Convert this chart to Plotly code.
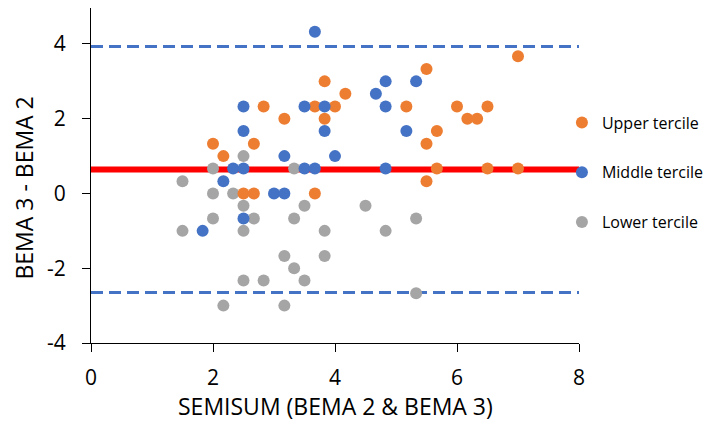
import plotly.graph_objects as go

# ---- data ----
upper_x = [3.83, 4.17, 2.83, 3.17, 3.67, 4.0, 3.83, 2.0, 2.67, 2.17, 7.0, 5.5, 5.17, 6.0, 6.5,
           6.17, 6.33, 5.67, 5.5, 5.67, 6.5, 7.0, 5.5, 2.5, 2.67, 3.67]
upper_y = [3.0, 2.67, 2.33, 2.0, 2.33, 2.33, 2.0, 1.33, 1.33, 1.0, 3.67, 3.33, 2.33, 2.33, 2.33,
           2.0, 2.0, 1.67, 1.33, 0.67, 0.67, 0.67, 0.33, 0.0, 0.0, 0.0]

middle_x = [3.67, 2.5, 3.5, 3.83, 3.83, 2.5, 3.17, 4.0, 2.33, 2.5, 3.5, 3.67, 2.17, 4.83, 5.33,
            4.67, 4.83, 5.17, 4.83, 3.0, 3.17, 2.5, 1.83]
middle_y = [4.33, 2.33, 2.33, 2.33, 1.67, 1.67, 1.0, 1.0, 0.67, 0.67, 0.67, 0.67, 0.33, 3.0, 3.0,
            2.67, 2.33, 1.67, 0.67, 0.0, 0.0, -0.67, -1.0]

lower_x = [2.5, 2.0, 3.33, 1.5, 2.0, 2.33, 2.5, 3.5, 2.0, 2.67, 3.33, 1.5, 2.5, 3.83, 3.17,
           3.83, 3.33, 2.5, 2.83, 3.5, 2.17, 3.17, 4.5, 4.83, 5.33, 5.33]
lower_y = [1.0, 0.67, 0.67, 0.33, 0.0, 0.0, -0.33, -0.33, -0.67, -0.67, -0.67, -1.0, -1.0, -1.0, -1.67,
           -1.67, -2.0, -2.33, -2.33, -2.33, -3.0, -3.0, -0.33, -1.0, -0.67, -2.67]

mean_diff = 0.64
upper_loa = 3.93
lower_loa = -2.65
line_x = [0, 8]

x_ticks = [0, 2, 4, 6, 8]
x_tick_labels = ["0", "2", "4", "6", "8"]
y_ticks = [-4, -2, 0, 2, 4]
y_tick_labels = ["-4", "-2", "0", "2", "4"]

x_title = "SEMISUM (BEMA 2 & BEMA 3)"
y_title = "BEMA 3 - BEMA 2"

FONT = "Open Sans"
ORANGE = "#ED7D31"
BLUE = "#4472C4"
GRAY = "#A5A5A5"

fig = go.Figure()

# reference lines (drawn beneath markers)
for yv, col, w, dash in [(upper_loa, BLUE, 3, "12px,6px"),
                         (lower_loa, BLUE, 3, "12px,6px"),
                         (mean_diff, "#FF0000", 6, "solid")]:
    fig.add_trace(go.Scatter(x=line_x, y=[yv, yv], mode="lines",
                             line=dict(color=col, width=w, dash=dash),
                             showlegend=False, hoverinfo="skip"))

marker_line = dict(width=0)
fig.add_trace(go.Scatter(x=lower_x, y=lower_y, mode="markers", name="Lower tercile",
                         marker=dict(color=GRAY, size=12, line=marker_line),
                         legendgroup="c", legendrank=3))
fig.add_trace(go.Scatter(x=upper_x, y=upper_y, mode="markers", name="Upper tercile",
                         marker=dict(color=ORANGE, size=12, line=marker_line),
                         legendgroup="a", legendrank=1))
fig.add_trace(go.Scatter(x=middle_x, y=middle_y, mode="markers", name="Middle tercile",
                         marker=dict(color=BLUE, size=12, line=marker_line),
                         legendgroup="b", legendrank=2))

axis_common = dict(showgrid=False, zeroline=False, showline=True, linecolor="#000000",
                   linewidth=1, ticks="outside", ticklen=8, tickcolor="#000000",
                   automargin=False,
                   tickfont=dict(family=FONT, size=21, color="#000000"))

title_font = dict(family=FONT, size=23, color="#000000")

# page body has an 8px margin, so the figure is sized to fit inside the 718x432 window
fig.update_layout(
    width=702, height=416,
    margin=dict(l=83, r=131, t=0, b=81),
    paper_bgcolor="white", plot_bgcolor="white",
    font=dict(family=FONT, color="#000000"),
    xaxis=dict(range=[0, 8], tickvals=x_ticks, ticktext=x_tick_labels, ticklabelstandoff=8,
               **axis_common),
    yaxis=dict(range=[-4, 4.963], tickvals=y_ticks, ticktext=y_tick_labels, ticklabelstandoff=12,
               **axis_common),
    legend=dict(x=0.965, xanchor="left", y=0.709, yanchor="top",
                font=dict(family=FONT, size=16, color="#000000"),
                traceorder="grouped", tracegroupgap=26, bgcolor="rgba(0,0,0,0)"),
    showlegend=True,
    annotations=[
        dict(text=y_title, textangle=-90, xref="paper", yref="paper",
             x=0, y=0.461, xanchor="center", yanchor="middle", xshift=-67,
             showarrow=False, font=title_font),
        dict(text=x_title, xref="paper", yref="paper",
             x=0.5, y=-0.189, xanchor="center", yanchor="middle",
             showarrow=False, font=title_font),
    ],
)

fig.write_html("out.html")
